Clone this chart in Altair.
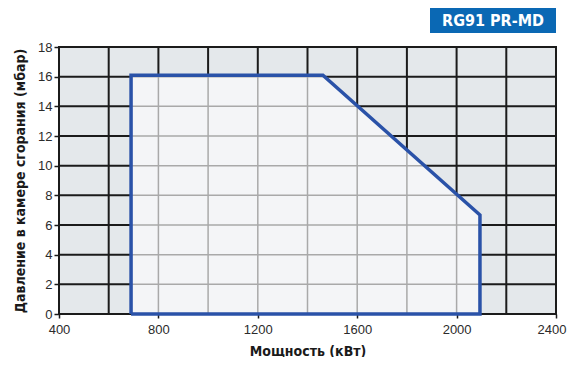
import altair as alt
import pandas as pd
import numpy as np

# ---- data ----
x_label_values = [400, 800, 1200, 1600, 2000, 2400]
y_label_values = [0, 2, 4, 6, 8, 10, 12, 14, 16, 18]
grid_x = [600, 800, 1000, 1200, 1400, 1600, 1800, 2000, 2200]
grid_y = [2, 4, 6, 8, 10, 12, 14, 16]
# working field outline (kW, mbar)
poly_x = [690, 690, 1462, 2094, 2094, 690]
poly_y = [0, 16.1, 16.1, 6.67, 0, 0]
upper_x = [690, 1462, 2094]
upper_y = [16.1, 16.1, 6.67]
badge_text = "RG91 PR-MD"

X_DOM = [400, 2400]
Y_DOM = [0, 18]

xs = alt.Scale(domain=X_DOM, nice=False, zero=False)
ys = alt.Scale(domain=Y_DOM, nice=False)

vg = pd.DataFrame({"x": grid_x, "y0": 0, "y1": 18})
hg = pd.DataFrame({"y": grid_y, "x0": 400, "x1": 2400})

def top_at(x):
    return float(np.interp(x, upper_x, upper_y))

def right_at(y):
    if y <= upper_y[-1]:
        return upper_x[-1]
    return float(np.interp(y, upper_y[::-1][:2], upper_x[::-1][:2]))

inner_v = pd.DataFrame([{"x": gx, "y0": 0, "y1": top_at(gx)}
                        for gx in grid_x if upper_x[0] < gx < upper_x[-1]])
inner_h = pd.DataFrame([{"y": gy, "x0": upper_x[0], "x1": right_at(gy)}
                        for gy in grid_y if gy < upper_y[0]])

area_df = pd.DataFrame({"x": upper_x, "y": upper_y})
outline_df = pd.DataFrame({"x": poly_x, "y": poly_y, "o": list(range(len(poly_x)))})

black = "#1b1b1b"
TFONT = "DejaVu Sans Condensed"

x_axis = alt.Axis(values=x_label_values, title="Мощность (кВт)", format="d",
                  grid=False, domain=False, tickSize=4, tickColor=black,
                  tickWidth=1.5, labelPadding=5, titlePadding=8,
                  labelOverlap=False, labelFlush=False,
                  labelAlign=alt.expr("datum.value == 2400 ? 'right' : 'center'"),
                  labelOffset=alt.expr("datum.value == 2400 ? 10 : 0"))
y_axis = alt.Axis(values=y_label_values, title="Давление в камере сгорания (мбар)",
                  format="d", grid=False, domain=False, tickSize=5, tickColor=black,
                  tickWidth=1.5, labelPadding=2, titlePadding=10,
                  labelOverlap=False, labelFlush=False, tickCount=10)

vlines = alt.Chart(vg).mark_rule(color=black, strokeWidth=2).encode(
    x=alt.X("x:Q", scale=xs, axis=x_axis),
    y=alt.Y("y0:Q", scale=ys, axis=y_axis), y2="y1:Q")
hlines = alt.Chart(hg).mark_rule(color=black, strokeWidth=2).encode(
    y=alt.Y("y:Q", scale=ys, axis=y_axis), x=alt.X("x0:Q", scale=xs, axis=x_axis), x2="x1:Q")

area = alt.Chart(area_df).mark_area(color="#f4f5f7", opacity=1).encode(
    x=alt.X("x:Q", scale=xs, axis=x_axis), y=alt.Y("y:Q", scale=ys, axis=y_axis),
    y2=alt.datum(0))

ivl = alt.Chart(inner_v).mark_rule(color="#a9a9a9", strokeWidth=1.5).encode(
    x=alt.X("x:Q", scale=xs, axis=x_axis), y=alt.Y("y0:Q", scale=ys, axis=y_axis), y2="y1:Q")
ihl = alt.Chart(inner_h).mark_rule(color="#a9a9a9", strokeWidth=1.5).encode(
    y=alt.Y("y:Q", scale=ys, axis=y_axis), x=alt.X("x0:Q", scale=xs, axis=x_axis), x2="x1:Q")

outline = alt.Chart(outline_df).mark_line(color="#2a52a8", strokeWidth=3.5,
                                          strokeJoin="miter").encode(
    x=alt.X("x:Q", scale=xs, axis=x_axis),
    y=alt.Y("y:Q", scale=ys, axis=y_axis),
    order="o:Q")

dummy = pd.DataFrame({"t": [badge_text]})
badge = alt.Chart(dummy).mark_rect(color="#0a68b4", clip=False).encode(
    x=alt.value(371), x2=alt.value(497), y=alt.value(-39), y2=alt.value(-14))
badge_t = alt.Chart(dummy).mark_text(color="white", fontSize=16, fontWeight="bold",
                                     font=TFONT, clip=False).encode(
    x=alt.value(434), y=alt.value(-26), text="t:N")

chart = alt.layer(vlines, hlines, area, ivl, ihl, outline, badge, badge_t).properties(
    width=497, height=267,
    autosize=alt.AutoSizeParams(type="none"),
    padding={"left": 51, "top": 39, "right": 11, "bottom": 43},
    background="white",
).configure_view(
    fill="#e4e8eb", stroke=black, strokeWidth=2
).configure_axis(
    labelFont="Liberation Sans", labelFontSize=13, labelColor="#2b2b2b",
    titleFont=TFONT, titleFontSize=14, titleFontWeight="bold",
    titleColor="#1a1a1a", labelOverlap=False
)

chart.save("out.html", embed_options={"renderer": "svg", "actions": False})
